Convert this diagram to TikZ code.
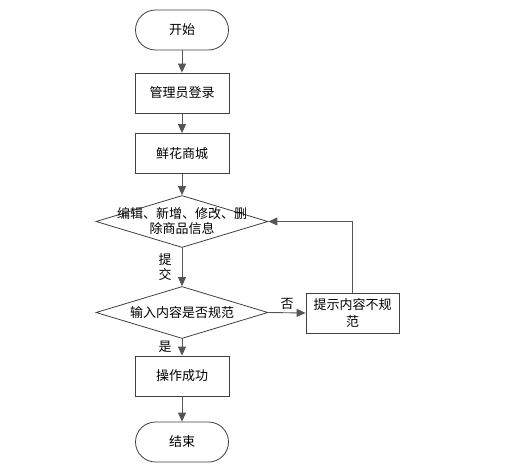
\documentclass[tikz,border=0pt]{standalone}
\usepackage{fontspec}
\setmainfont{Noto Sans CJK SC}
\usetikzlibrary{arrows.meta,shapes.geometric}
\definecolor{linec}{HTML}{555555}
\definecolor{edgec}{HTML}{404040}
\tikzset{
  base/.style={draw=edgec, line width=0.8pt, fill=white, inner sep=0pt, font=\fontsize{13pt}{17pt}\selectfont, align=center},
  term/.style={base, rectangle, rounded corners=20pt, minimum width=93pt, minimum height=40pt},
  proc/.style={base, rectangle, minimum width=94pt, minimum height=40pt},
  decision/.style={base, diamond, minimum width=172pt, minimum height=52pt},
  conn/.style={draw=linec, line width=0.9pt, -{Triangle[length=9pt,width=8pt]}},
  lbl/.style={font=\fontsize{13pt}{15pt}\selectfont, inner sep=0pt, align=center}
}
\begin{document}
\begin{tikzpicture}[x=1pt,y=-1pt]
\useasboundingbox (0,0) rectangle (506,474);
\node[term] (start) at (182,30) {开始};
\node[proc] (login) at (182,93) {管理员登录};
\node[proc] (shop) at (182,153.5) {鲜花商城};
\node[decision] (d1) at (182,221.5) {};
\node[lbl] (d1t) at (182,221.5) {编辑、新增、修改、删\\除商品信息};
\node[decision] (d2) at (182,312.5) {};
\node[lbl] (d2t) at (182,312.5) {输入内容是否规范};
\node[proc, minimum width=93pt] (tip) at (352.5,313) {提示内容不规\\范};
\node[proc] (ok) at (182,376) {操作成功};
\node[term] (end) at (182,442) {结束};
\draw[conn] (start) -- (login);
\draw[conn] (login) -- (shop);
\draw[conn] (shop) -- (d1.north);
\draw[conn] (d1.south) -- node[lbl, left=10pt] (ltj) {提\\交} (d2.north);
\draw[conn] (d2.east) -- node[lbl, above=3pt] (lno) {否} (tip.west);
\draw[conn] (tip.north) |- (d1.east);
\draw[conn] (d2.south) -- (ok.north);
\node[lbl] (lyes) at (165,347) {是};
\draw[conn] (ok) -- (end);
\end{tikzpicture}
\end{document}
